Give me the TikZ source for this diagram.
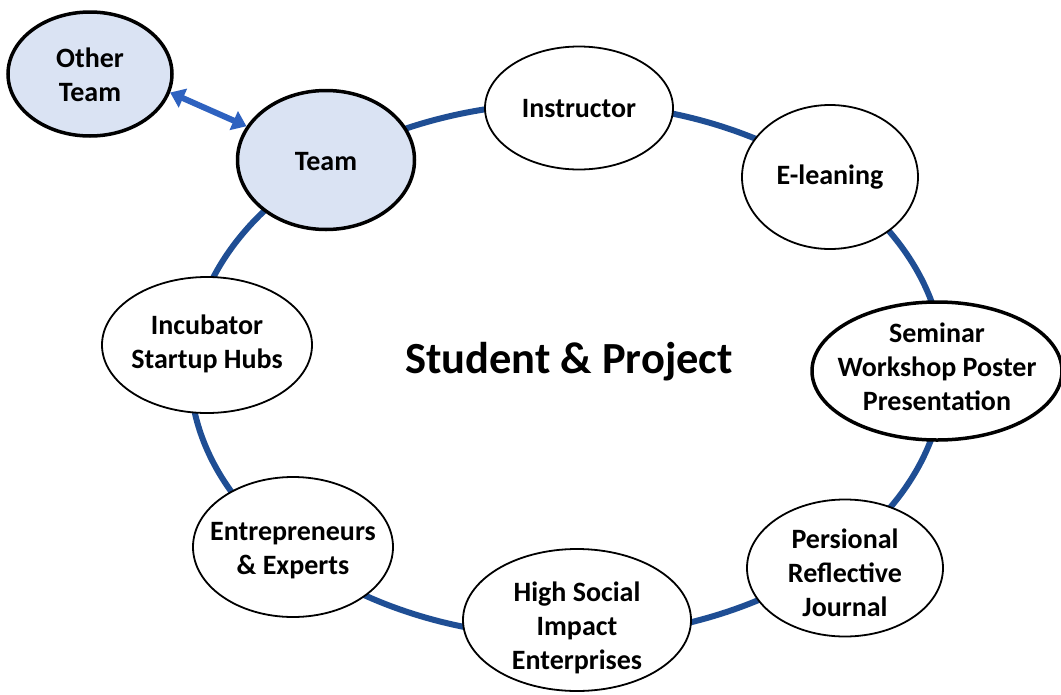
\documentclass[tikz,border=0pt]{standalone}
\usepackage{fontspec}
\setmainfont{Carlito}
\usetikzlibrary{shapes.geometric,arrows.meta}
\definecolor{ringblue}{HTML}{1F4E94}
\definecolor{arrowblue}{HTML}{2E62C0}
\definecolor{teamfill}{HTML}{DAE3F3}
\begin{document}
\begin{tikzpicture}[x=1pt,y=-1pt,
  bubble/.style={ellipse,draw=black,line width=1.8pt,fill=white,inner sep=0pt},
  strong/.style={line width=3.5pt},
  teamstyle/.style={bubble,strong,fill=teamfill},
  caption/.style={inner sep=0pt,align=center,font=\fontsize{28}{34}\selectfont\bfseries},
  ring/.style={draw=ringblue,line width=6pt},
  link/.style={draw=arrowblue,line width=6pt,
    {Triangle[width=20pt,length=14pt]}-{Triangle[width=20pt,length=14pt]}}]
\useasboundingbox (0,0) rectangle (1061,694);
% the ring that joins all the actors
\node[ring,ellipse,minimum width=754pt,minimum height=534pt,inner sep=0pt] (circ) at (567,370) {};
\node[font=\fontsize{44.5}{52}\selectfont\bfseries] (core) at (569,362) {Student \& Project};
% actors around the ring
\node[teamstyle,minimum width=164pt,minimum height=124pt] (other) at (90,74) {};
\node[teamstyle,minimum width=177pt,minimum height=139pt] (team) at (326,160) {};
\node[bubble,minimum width=188pt,minimum height=123pt] (instr) at (579,108) {};
\node[bubble,minimum width=176pt,minimum height=144pt] (elearn) at (830,177) {};
\node[bubble,strong,minimum width=250pt,minimum height=138pt] (seminar) at (937,371) {};
\node[bubble,minimum width=196pt,minimum height=137pt] (journal) at (845,568) {};
\node[bubble,minimum width=228pt,minimum height=142pt] (social) at (577,620) {};
\node[bubble,minimum width=200pt,minimum height=140pt] (experts) at (293,547) {};
\node[bubble,minimum width=210pt,minimum height=136pt] (incub) at (207,345) {};
% their labels
\node[caption] (otherT) at ([yshift=-1pt]other.center) {Other\\Team};
\node[caption] (teamT) at ([yshift=-2pt]team.center) {Team};
\node[caption] (instrT) at ([yshift=-1pt]instr.center) {Instructor};
\node[caption] (elearnT) at (elearn.center) {E-leaning};
\node[caption] (seminarT) at ([yshift=4.5pt]seminar.center) {Seminar\\Workshop Poster\\Presentation};
\node[caption] (journalT) at ([yshift=-5pt]journal.center) {Persional\\Reflective\\Journal};
\node[caption] (socialT) at ([yshift=-8pt]social.center) {High Social\\Impact\\Enterprises};
\node[caption] (expertsT) at ([yshift=-4pt]experts.center) {Entrepreneurs\\\& Experts};
\node[caption] (incubT) at ([yshift=1pt]incub.center) {Incubator\\Startup Hubs};
% exchange between the two teams
\draw[link] (other.-13) -- (team.157);
\end{tikzpicture}
\end{document}
